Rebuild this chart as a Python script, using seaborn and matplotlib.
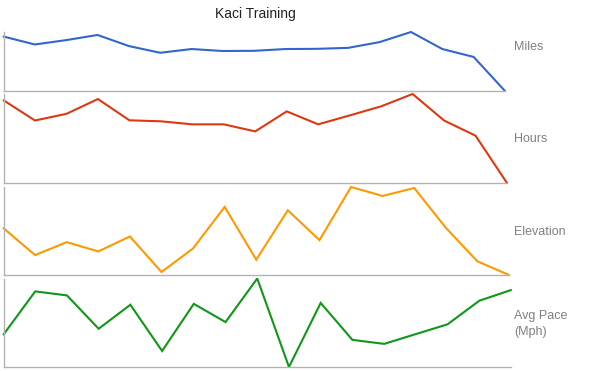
import matplotlib
matplotlib.use("Agg")
import matplotlib.pyplot as plt
import seaborn as sns
import pandas as pd

sns.set_theme(style="white")
plt.rcParams['font.family'] = ['Liberation Sans', 'DejaVu Sans']

weeks = list(range(1, 18))
miles = [27.5, 23.5, 25.7, 28.3, 22.7, 19.3, 21.2, 20.2, 20.3, 21.2, 21.3, 21.8, 24.7, 29.8, 21.2, 17.2, 0.0]
hours = [4.09, 3.09, 3.42, 4.15, 3.10, 3.05, 2.90, 2.90, 2.55, 3.54, 2.90, 3.34, 3.79, 4.40, 3.09, 2.34, 0.0]
elevation = [946, 406, 666, 480, 780, 66, 540, 1374, 314, 1306, 706, 1774, 1594, 1754, 954, 280, 6]
pace = [6.24, 7.21, 7.12, 6.37, 6.91, 5.87, 6.93, 6.52, 7.50, 5.51, 6.95, 6.12, 6.03, 6.25, 6.47, 7.00, 7.24]

series_names = ["Miles", "Hours", "Elevation", "Avg Pace\n(Mph)"]
series_values = [miles, hours, elevation, pace]
colors = ["#3366cc", "#dc3912", "#ff9900", "#109618"]

W, H = 600, 371
fig = plt.figure(figsize=(W / 100, H / 100), dpi=100)

# panel boxes in pixels: left, right, top, bottom
boxes = [(3.5, 505, 32, 91), (3.5, 507, 94, 183), (3.5, 509, 187, 275), (3.5, 511, 278.5, 367)]
label_y = [47.5, 139, 231.5, 324]

for name, vals, col, (l, r, t, b), ly in zip(series_names, series_values, colors, boxes, label_y):
    ax = fig.add_axes([l / W, 1 - b / H, (r - l) / W, (b - t) / H])
    df = pd.DataFrame({"week": weeks, "value": vals})
    sns.lineplot(data=df, x="week", y="value", ax=ax, color=col, linewidth=1.5,
                 clip_on=False, solid_capstyle="round", solid_joinstyle="miter")
    ax.set_xlim(weeks[0], weeks[-1])
    ax.set_ylim(min(vals), max(vals))
    ax.set_xticks([])
    ax.set_yticks([])
    ax.set_xlabel("")
    ax.set_ylabel("")
    for s in ["top", "right"]:
        ax.spines[s].set_visible(False)
    for s in ["left", "bottom"]:
        ax.spines[s].set_color("#b3b3b3")
        ax.spines[s].set_linewidth(1.0)
    ax.set_facecolor("none")
    fig.text(514 / W, 1 - ly / H, name, ha="left", va="center", fontsize=9,
             color="#808080", linespacing=1.5)

fig.text(255 / W, 1 - 14 / H, "Kaci Training", ha="center", va="center",
         fontsize=10, color="#222222")

fig.savefig("out.png", dpi=100)
